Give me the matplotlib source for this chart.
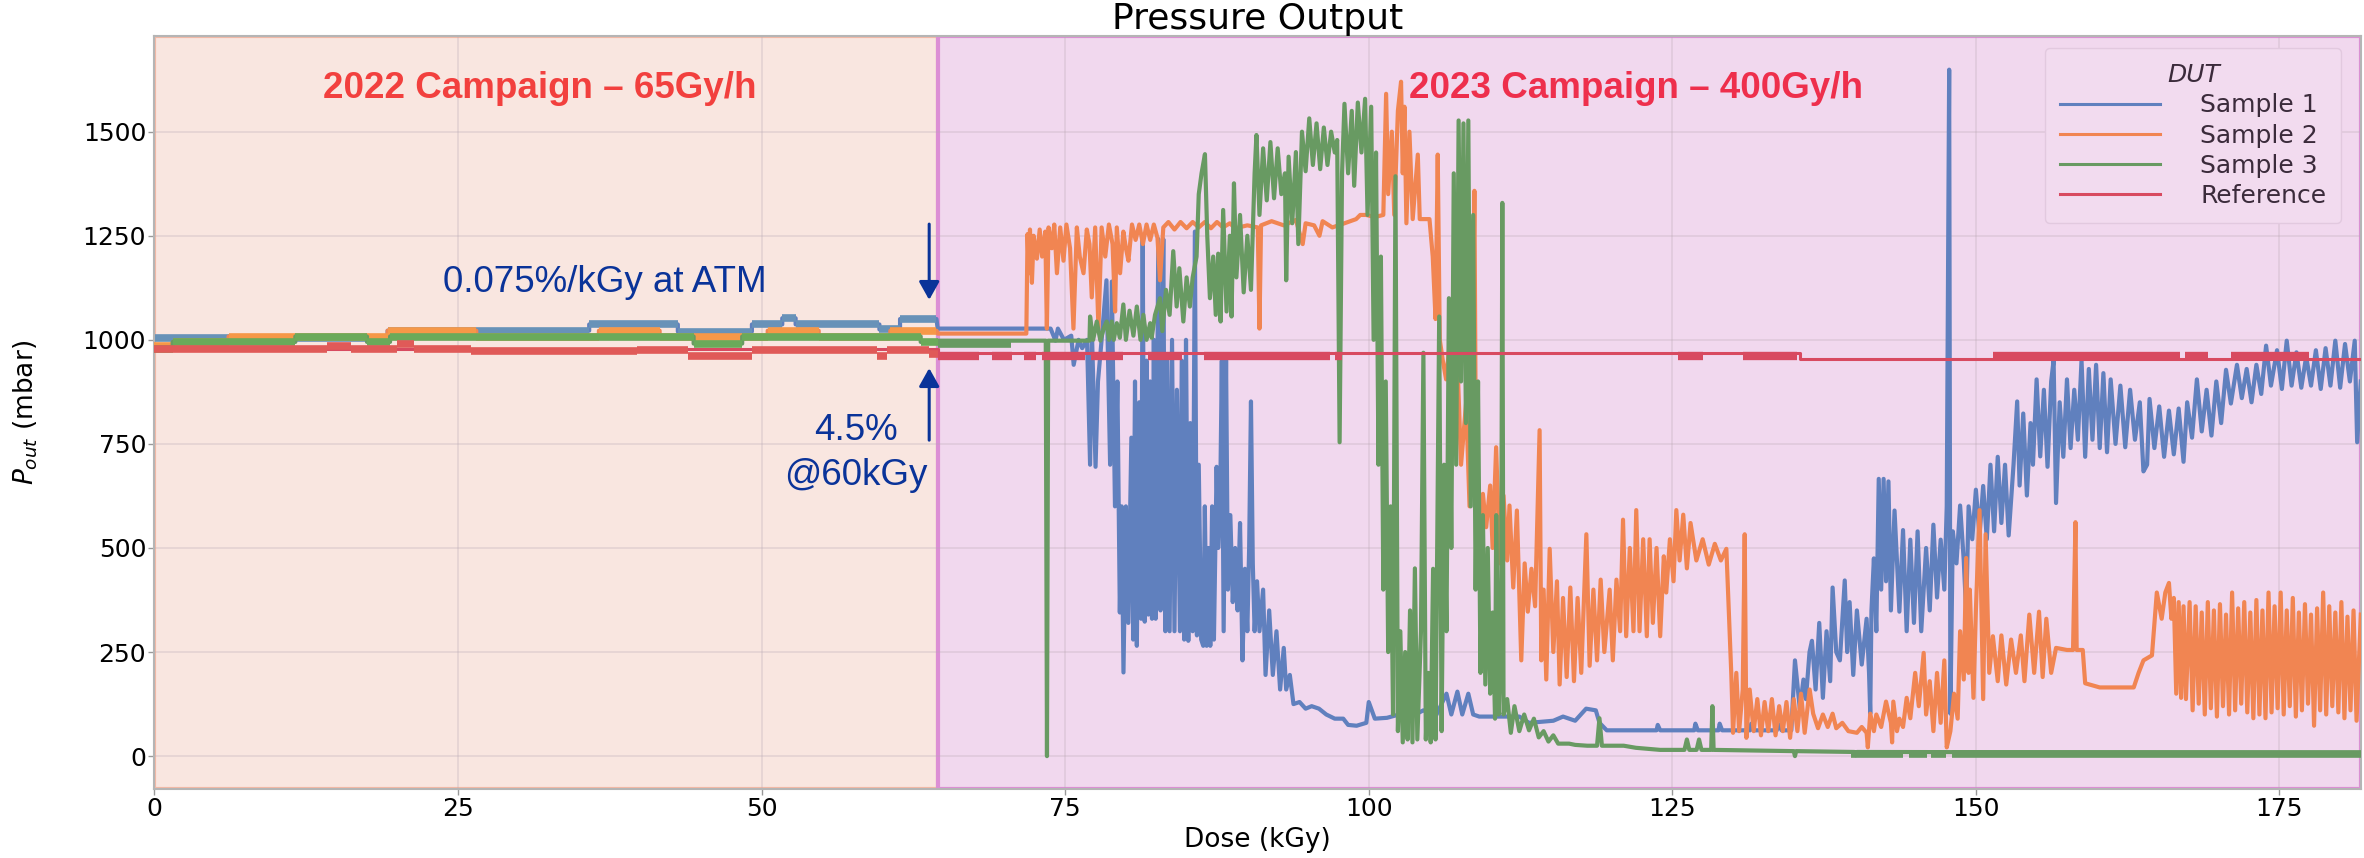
import numpy as np
import matplotlib
matplotlib.use("Agg")
import matplotlib.pyplot as plt

plt.rcParams['font.family'] = ['DejaVu Sans']

# ---------------- data ----------------
labels = ['Sample 1', 'Sample 2', 'Sample 3', 'Reference']
campaign_split = 64.5   # kGy, end of the 2022 campaign
dose_max = 181.7

# 2022 campaign (65 Gy/h): readings sit on a few quantised levels,
# stored as step edges (kGy) and levels (mbar)
s1_edges_2022 = [0, 19.2, 35.8, 43.1, 49.2, 51.7, 52.8, 59.7, 61.4, 64.4]
s1_levels_2022 = [1005, 1022, 1037, 1020, 1037, 1052, 1037, 1025, 1050]
s2_edges_2022 = [0, 1.5, 6.1, 19.2, 26.5, 36.6, 41.6, 50.5, 54.7, 60.6, 64.4]
s2_levels_2022 = [985, 994, 1008, 1022, 1008, 1022, 1008, 1022, 1008, 1022]
s3_edges_2022 = [0, 1.5, 11.6, 17.5, 19.4, 44.4, 48.4, 63.1, 64.5]
s3_levels_2022 = [978, 995, 1008, 995, 1008, 991, 1008, 995]

# 2023 campaign (400 Gy/h): (dose kGy, pressure mbar)
s1_2023 = [
    (64.5, 1027), (73.8, 1027), (74.2, 998), (74.4, 1027), (74.9, 1000), (75.5, 1010),
    (75.7, 940), (76.1, 1000), (76.4, 980), (76.8, 1000), (77.05, 700), (77.2, 1020),
    (77.5, 695), (77.7, 900), (78.0, 1000), (78.4, 1143), (78.7, 700), (78.84, 1140),
    (79.1, 600), (79.3, 900), (79.5, 345), (79.65, 600), (79.8, 201),
    (80.0, 600), (80.2, 320), (80.45, 765), (80.6, 280), (80.75, 900), (80.9, 265),
    (81.1, 850), (81.25, 330), (81.38, 1242), (81.55, 323), (81.7, 950), (81.85, 340),
    (82.0, 900), (82.15, 330), (82.3, 1000), (82.45, 330), (82.67, 1242), (82.85, 350),
    (83.0, 1000), (83.08, 1242), (83.25, 300), (83.4, 950), (83.6, 300), (83.8, 1000),
    (84.0, 300), (84.2, 880), (84.45, 300), (84.6, 950), (84.8, 280), (84.95, 1000),
    (85.14, 277), (85.3, 800), (85.5, 300), (85.68, 1260), (85.85, 290), (86.0, 700),
    (86.2, 280), (86.37, 265), (86.5, 600), (86.65, 265), (86.8, 500), (86.95, 265),
    (87.1, 600), (87.25, 280), (87.47, 695), (87.6, 500), (87.75, 580), (87.9, 950),
    (88.05, 300), (88.25, 951), (88.4, 400), (88.6, 579), (88.8, 370), (89.0, 500),
    (89.2, 350), (89.4, 560), (89.6, 230), (89.8, 450), (90.0, 300), (90.15, 500),
    (90.3, 852), (90.45, 463), (90.6, 300), (90.8, 420), (91.0, 300), (91.3, 400),
    (91.5, 195), (91.8, 350), (92.1, 195), (92.4, 300), (92.7, 160), (93.0, 260),
    (93.2, 160), (93.5, 195), (93.8, 125), (94.3, 130), (94.8, 114), (95.3, 120),
    (95.9, 114), (96.5, 100), (97.2, 90), (97.9, 90), (98.3, 75), (99.0, 73),
    (99.8, 80), (100.0, 130), (100.5, 90), (101.5, 92), (102.5, 100), (103.5, 95),
    (104.5, 110), (105.5, 95), (106.4, 150), (106.8, 100), (107.3, 155), (107.7, 100),
    (108.2, 150), (108.6, 100), (109.1, 95), (112.4, 95), (113.2, 80), (115.2, 85),
    (116.0, 95), (117.0, 85), (117.9, 114), (118.7, 110), (119.0, 80), (119.6, 62),
    (123.7, 62), (123.8, 75), (124.0, 62), (126.8, 62), (126.9, 78), (127.1, 62),
    (128.8, 62), (128.9, 78), (129.1, 62), (131.4, 62), (131.5, 78), (131.7, 62),
    (133.6, 62), (133.7, 78), (134.0, 62), (134.8, 62), (135.1, 230), (135.5, 114),
    (135.8, 184), (136.0, 137), (136.3, 250), (136.5, 277), (136.8, 160), (137.1, 320),
    (137.4, 140), (137.7, 300), (138.0, 180), (138.2, 405), (138.5, 250), (138.8, 230),
    (139.2, 422), (139.4, 250), (139.6, 370), (139.9, 195), (140.2, 350), (140.6, 220),
    (141.0, 330), (141.2, 200), (141.3, 102), (141.4, 350), (141.6, 475), (141.8, 300),
    (142.0, 666), (142.2, 400), (142.4, 666), (142.6, 420), (142.8, 660), (143.0, 350),
    (143.3, 590), (143.7, 347), (144.0, 543), (144.3, 300), (144.6, 520), (144.9, 320),
    (145.2, 540), (145.5, 300), (145.9, 500), (146.2, 350), (146.5, 556), (146.8, 381),
    (147.1, 520), (147.4, 400), (147.6, 600), (147.8, 1649), (147.9, 102), (148.1, 540),
    (148.4, 463), (148.7, 602), (149.0, 470), (149.2, 347), (149.4, 600), (149.7, 521),
    (150.0, 640), (150.3, 530), (150.6, 649), (150.9, 521), (151.2, 700), (151.5, 540),
    (151.8, 719), (152.1, 560), (152.4, 700), (152.7, 530), (153.1, 700), (153.4, 852),
    (153.6, 650), (153.9, 823), (154.2, 626), (154.5, 800), (154.7, 700), (155.0, 905),
    (155.3, 720), (155.6, 880), (155.9, 695), (156.2, 900), (156.4, 951), (156.6, 608),
    (156.9, 850), (157.2, 719), (157.5, 905), (157.8, 740), (158.1, 880), (158.4, 760),
    (158.7, 951), (159.0, 719), (159.3, 930), (159.6, 760), (159.9, 940), (160.2, 740),
    (160.5, 920), (160.8, 730), (161.1, 905), (161.5, 750), (161.9, 890), (162.3, 742),
    (162.7, 880), (163.1, 760), (163.5, 850), (163.8, 684), (164.1, 700), (164.3, 858),
    (164.7, 740), (165.1, 840), (165.5, 719), (165.9, 830), (166.3, 725), (166.7, 835),
    (167.1, 707), (167.4, 850), (167.8, 765), (168.2, 905), (168.6, 780), (169.0, 880),
    (169.4, 770), (169.8, 900), (170.2, 800), (170.6, 928), (171.0, 847), (171.5, 940),
    (171.9, 860), (172.3, 930), (172.7, 850), (173.1, 940), (173.5, 870), (173.9, 986),
    (174.3, 890), (174.8, 975), (175.2, 882), (175.6, 998), (176.0, 890), (176.4, 970),
    (176.8, 885), (177.2, 960), (177.6, 890), (178.0, 975), (178.4, 882), (178.8, 980),
    (179.2, 890), (179.6, 998), (180.0, 885), (180.4, 990), (180.8, 900), (181.2, 998),
    (181.4, 754), (181.7, 900),
]

s2_2023 = [
    (64.5, 1015), (71.8, 1015), (71.9, 1254), (72.0, 1160), (72.1, 1265), (72.26, 1137),
    (72.4, 1250), (72.67, 1195), (72.9, 1265), (73.1, 1200), (73.36, 1260), (73.49, 1027),
    (73.63, 1270), (73.9, 1220), (74.1, 1277), (74.32, 1160), (74.59, 1270), (74.86, 1190),
    (75.1, 1277), (75.4, 1220), (75.68, 1027), (75.96, 1270), (76.2, 1200), (76.51, 1160),
    (76.78, 1265), (77.0, 1230), (77.19, 1102), (77.47, 1270), (77.74, 1027), (78.0, 1270),
    (78.3, 1200), (78.6, 1277), (78.9, 1230), (79.11, 1068), (79.25, 1270), (79.52, 1160),
    (79.79, 1260), (80.0, 1220), (80.21, 1190), (80.5, 1277), (80.8, 1240), (81.1, 1277),
    (81.4, 1230), (81.7, 1277), (82.0, 1240), (82.3, 1277), (82.6, 1245), (82.81, 1143),
    (83.08, 1270), (83.5, 1283), (84.0, 1265), (84.5, 1283), (85.0, 1268), (85.5, 1283),
    (86.0, 1270), (86.5, 1283), (87.0, 1268), (87.5, 1283), (88.0, 1270), (88.56, 1280),
    (89.0, 1268), (90.0, 1275), (90.86, 1270), (91.0, 1027), (91.13, 1275), (92.0, 1285),
    (93.0, 1275), (94.0, 1288), (94.56, 1230), (94.8, 1280), (95.5, 1275), (95.94, 1250),
    (96.2, 1285), (97.0, 1270), (98.0, 1280), (98.96, 1290), (99.3, 1300), (99.78, 1300),
    (100.5, 1295), (101.2, 1300), (101.43, 1591), (101.6, 1350), (101.9, 1500), (102.1, 1300),
    (102.4, 1550), (102.66, 1620), (102.8, 1400), (102.94, 1560), (103.1, 1280), (103.35, 1500),
    (103.62, 1290), (104.04, 1445), (104.2, 1290), (105.0, 1290), (105.27, 1200), (105.5, 1050),
    (105.68, 1445), (105.85, 1000), (106.1, 950), (106.37, 905), (106.7, 1000), (107.0, 800),
    (107.3, 950), (107.6, 700), (108.02, 850), (108.3, 600), (108.5, 800), (108.7, 1358),
    (108.84, 637), (109.12, 486), (109.4, 630), (109.67, 550), (110.0, 650), (110.2, 500),
    (110.49, 742), (110.8, 463), (111.1, 626), (111.4, 470), (111.59, 602), (111.9, 405),
    (112.2, 590), (112.56, 230), (112.84, 463), (113.1, 347), (113.4, 450), (113.7, 360),
    (114.07, 783), (114.21, 230), (114.4, 400), (114.62, 184), (114.9, 498), (115.2, 250),
    (115.5, 420), (115.72, 172), (116.0, 380), (116.3, 190), (116.6, 405), (116.9, 180),
    (117.2, 380), (117.5, 200), (117.92, 533), (118.19, 217), (118.5, 400), (118.8, 230),
    (119.1, 424), (119.4, 250), (119.84, 400), (120.1, 230), (120.4, 424), (120.7, 300),
    (120.94, 568), (121.2, 288), (121.5, 500), (121.8, 300), (122.03, 591), (122.3, 300),
    (122.6, 521), (122.9, 288), (123.13, 521), (123.4, 320), (123.7, 500), (124.0, 288),
    (124.3, 480), (124.5, 393), (124.8, 521), (125.1, 420), (125.33, 591), (125.6, 470),
    (125.9, 580), (126.2, 451), (126.5, 560), (126.98, 470), (127.5, 521), (128.0, 460),
    (128.5, 510), (129.0, 470), (129.45, 498), (129.86, 195), (130.0, 56), (130.27, 200),
    (130.5, 60), (130.8, 160), (130.96, 533), (131.1, 44), (131.37, 160), (131.7, 60),
    (132.0, 137), (132.3, 50), (132.6, 130), (132.9, 60), (133.2, 137), (133.5, 50),
    (133.8, 120), (134.1, 60), (134.4, 130), (134.7, 44), (135.0, 137), (135.3, 60),
    (135.6, 150), (135.9, 56), (136.31, 160), (136.6, 102), (137.0, 67), (137.4, 100),
    (137.8, 70), (138.2, 102), (138.5, 67), (139.0, 80), (139.5, 60), (140.2, 56),
    (140.6, 70), (141.0, 56), (141.1, 21), (141.3, 102), (141.6, 60), (141.8, 100),
    (142.2, 70), (142.6, 131), (143.0, 80), (143.1, 33), (143.2, 131), (143.5, 60),
    (143.7, 90), (144.0, 70), (144.3, 140), (144.6, 91), (145.0, 200), (145.3, 120),
    (145.7, 248), (145.9, 100), (146.2, 180), (146.5, 60), (146.8, 200), (147.1, 80),
    (147.4, 230), (147.6, 21), (147.9, 60), (148.2, 150), (148.5, 90), (148.7, 300),
    (149.0, 184), (149.2, 476), (149.4, 200), (149.5, 400), (149.8, 140), (150.0, 350),
    (150.3, 591), (150.6, 137), (150.8, 533), (151.1, 200), (151.4, 288), (151.8, 180),
    (152.1, 290), (152.5, 172), (152.9, 280), (153.3, 200), (153.7, 290), (154.0, 180),
    (154.4, 340), (154.8, 200), (155.2, 347), (155.5, 190), (155.8, 330), (156.2, 200),
    (156.6, 260), (157.5, 255), (158.0, 255), (158.2, 562), (158.3, 255), (158.8, 255),
    (159.0, 175), (160.2, 165), (163.0, 165), (163.4, 200), (163.8, 230), (164.5, 242),
    (164.9, 393), (165.3, 330), (165.6, 393), (165.9, 416), (166.1, 330), (166.3, 380),
    (166.5, 150), (166.7, 370), (166.9, 140), (167.1, 360), (167.3, 137), (167.6, 370),
    (167.85, 110), (168.1, 360), (168.35, 126), (168.6, 345), (168.85, 100), (169.1, 370),
    (169.35, 115), (169.6, 350), (169.85, 95), (170.1, 365), (170.35, 120), (170.6, 340),
    (170.85, 100), (171.1, 393), (171.35, 110), (171.6, 355), (171.85, 126), (172.1, 370),
    (172.35, 105), (172.6, 345), (172.85, 91), (173.1, 375), (173.35, 100), (173.6, 350),
    (173.85, 91), (174.1, 393), (174.35, 105), (174.6, 360), (174.85, 115), (175.1, 393),
    (175.35, 100), (175.6, 350), (175.85, 120), (176.1, 380), (176.35, 95), (176.6, 345),
    (176.85, 110), (177.1, 365), (177.35, 126), (177.6, 340), (177.85, 73), (178.1, 355),
    (178.35, 110), (178.6, 393), (178.85, 100), (179.1, 360), (179.35, 120), (179.6, 345),
    (179.85, 105), (180.1, 370), (180.35, 91), (180.6, 335), (180.85, 110), (181.1, 350),
    (181.35, 85), (181.7, 340),
]

s3_2023 = [
    (64.5, 998), (73.4, 998), (73.5, 0), (73.6, 998), (77.0, 998), (77.05, 1056),
    (77.3, 1000), (77.6, 1044), (77.9, 998), (78.2, 1030), (78.42, 1044), (78.6, 1000),
    (78.84, 1044), (79.0, 1000), (79.25, 1040), (79.5, 1005), (79.79, 1085), (80.0, 1000),
    (80.3, 1070), (80.62, 1010), (80.9, 1080), (81.2, 1000), (81.44, 1060), (81.7, 1000),
    (82.0, 1040), (82.12, 1005), (82.4, 1060), (82.81, 1100), (83.0, 1021), (83.3, 1120),
    (83.6, 1060), (83.9, 1213), (84.18, 1080), (84.4, 1172), (84.73, 1044), (85.0, 1150),
    (85.27, 1080), (85.5, 1150), (85.82, 1200), (86.0, 1350), (86.23, 1400), (86.51, 1446),
    (86.7, 1250), (86.92, 1100), (87.19, 1200), (87.4, 1060), (87.6, 1207), (87.8, 1044),
    (88.01, 1312), (88.29, 1068), (88.56, 1250), (88.7, 1056), (88.9, 1376), (89.1, 1150),
    (89.4, 1300), (89.7, 1114), (90.0, 1250), (90.3, 1120), (90.6, 1400), (90.75, 1492),
    (91.0, 1300), (91.3, 1460), (91.6, 1335), (91.9, 1475), (92.2, 1340), (92.5, 1460),
    (92.8, 1350), (93.1, 1400), (93.2, 1143), (93.4, 1440), (93.7, 1280), (94.0, 1451),
    (94.2, 1230), (94.5, 1500), (94.8, 1405), (95.1, 1532), (95.4, 1420), (95.7, 1520),
    (96.0, 1410), (96.3, 1510), (96.6, 1420), (96.9, 1500), (97.2, 1450), (97.4, 1480),
    (97.6, 754), (97.8, 1400), (98.0, 1567), (98.3, 1400), (98.6, 1550), (98.8, 1370),
    (99.1, 1570), (99.4, 1450), (99.7, 1579), (99.9, 1300), (100.2, 1560), (100.4, 1000),
    (100.6, 1450), (100.8, 700), (101.0, 1200), (101.2, 400), (101.4, 900), (101.6, 250),
    (101.8, 600), (102.0, 100), (102.2, 1393), (102.4, 60), (102.6, 300), (102.8, 33),
    (103.0, 250), (103.2, 40), (103.4, 350), (103.6, 33), (103.8, 451), (104.0, 40),
    (104.3, 300), (104.5, 969), (104.7, 40), (104.9, 200), (105.1, 33), (105.3, 450),
    (105.5, 40), (105.8, 1056), (106.0, 60), (106.2, 700), (106.4, 300), (106.6, 1100),
    (106.8, 500), (107.0, 1400), (107.2, 700), (107.4, 1527), (107.6, 900), (107.8, 1520),
    (108.0, 800), (108.2, 1527), (108.4, 600), (108.6, 1300), (108.8, 400), (109.0, 900),
    (109.2, 200), (109.4, 579), (109.6, 172), (109.8, 500), (110.0, 150), (110.2, 345),
    (110.4, 90), (110.5, 579), (110.7, 100), (110.9, 300), (111.0, 1329), (111.1, 100),
    (111.4, 137), (111.7, 56), (112.0, 120), (112.4, 60), (112.8, 100), (113.2, 62),
    (113.6, 90), (114.0, 45), (114.4, 60), (114.8, 35), (115.2, 50), (115.6, 30),
    (116.5, 30), (117.0, 27), (118.0, 25), (118.8, 25), (119.0, 91), (119.2, 25),
    (121.0, 25), (122.0, 20), (124.0, 15), (126.0, 15), (126.2, 40), (126.4, 15),
    (127.0, 15), (127.2, 40), (127.4, 15), (128.2, 15), (128.3, 120), (128.4, 15),
    (135.0, 12), (135.1, 0), (135.2, 12), (140.0, 10), (140.1, 2), (140.2, 10),
    (181.7, 8),
]
# stretches where Sample 3 flickers between two counts (start, end, mbar)
s3_bands_2023 = [(64.5, 70.5, 990), (139.7, 144.0, 6), (144.5, 146.0, 6),
                 (146.3, 147.5, 6), (148.0, 181.7, 6)]

ref_trace = [(0, 978), (64.5, 978), (64.5, 969), (135.5, 969), (135.5, 955), (181.7, 955)]
ref_bands = [
    (0, 14.2, 977), (14.2, 16.2, 985), (16.2, 20.0, 977), (20.0, 21.4, 990),
    (21.4, 26.1, 977), (26.1, 39.7, 972), (39.7, 43.9, 975), (43.9, 49.2, 962),
    (49.2, 59.5, 975), (59.5, 60.3, 962), (60.3, 63.8, 975), (63.8, 64.5, 965),
    (64.5, 67.9, 961), (69.0, 70.6, 961), (71.6, 72.6, 961), (73.1, 76.6, 961),
    (77.1, 79.8, 961), (81.8, 84.6, 961), (86.4, 96.8, 961), (97.2, 97.8, 961),
    (125.5, 127.5, 961), (130.8, 135.3, 961), (151.4, 166.8, 962), (167.2, 169.1, 962),
    (171.0, 177.4, 962),
]

# ---------------- styling ----------------
colors = ['#6080be', '#f18552', '#689a62', '#d84a60']       # 2023 side
colors_2022 = ['#6892b8', '#f69848', '#6aaa5a', '#e05a58']  # under the salmon tint
ann_blue = '#0a3399'
trace_lw = 3.0
ref_lw = 2.2
band_lw = 5.5


def step_path(edges, levels):
    x = np.repeat(edges, 2)[1:-1]
    y = np.repeat(levels, 2)
    return x, y


fig = plt.figure(figsize=(23.64, 8.58), dpi=100)
ax = fig.add_axes([0.06535, 0.0804, 0.9333, 0.8782])

ax.axvspan(0, campaign_split, facecolor='#f9e6e0', edgecolor='#f3b9a6', lw=3, zorder=0)
ax.axvspan(campaign_split, dose_max, facecolor='#f1d8ee', edgecolor='#dc8fd5', lw=3, zorder=0)
ax.set_axisbelow(True)
ax.grid(True, color='#b9a9b4', lw=1.1, alpha=0.35)

steps = [(s1_edges_2022, s1_levels_2022), (s2_edges_2022, s2_levels_2022),
         (s3_edges_2022, s3_levels_2022)]
traces = [s1_2023, s2_2023, s3_2023]
handles = []
for i, ((edges, levels), trace) in enumerate(zip(steps, traces)):
    x0, y0 = step_path(edges, levels)
    d, p = np.array(trace).T
    line, = ax.plot(np.concatenate([x0, d]), np.concatenate([y0, p]),
                    color=colors[i], lw=trace_lw, zorder=2 + i)
    ax.hlines(levels, edges[:-1], edges[1:], color=colors_2022[i], lw=band_lw, zorder=2 + i)
    handles.append(line)

b0, b1, bp = np.array(s3_bands_2023).T
ax.hlines(bp, b0, b1, color=colors[2], lw=band_lw, zorder=4)

d, p = np.array(ref_trace).T
line, = ax.plot(d, p, color=colors[3], lw=ref_lw, zorder=5)
handles.append(line)
b0, b1, bp = np.array(ref_bands).T
old = b0 < campaign_split
ax.hlines(bp[old], b0[old], b1[old], color=colors_2022[3], lw=band_lw, zorder=5)
ax.hlines(bp[~old], b0[~old], b1[~old], color=colors[3], lw=6, zorder=5)

# annotations added on top of the plot
ann_font = ['Liberation Sans', 'DejaVu Sans']
ax.text(31.7, 1581, '2022 Campaign \u2013 65Gy/h', color='#f2403e', fontsize=26.5,
        fontweight='bold', family=ann_font, ha='center', va='baseline', zorder=8)
ax.text(122.0, 1581, '2023 Campaign \u2013 400Gy/h', color='#ee2f4c', fontsize=26.5,
        fontweight='bold', family=ann_font, ha='center', va='baseline', zorder=8)
ax.text(37.1, 1115, '0.075%/kGy at ATM', color=ann_blue, fontsize=26.5,
        family=ann_font, ha='center', va='baseline', zorder=8)
ax.text(57.75, 759, '4.5%', color=ann_blue, fontsize=26.5,
        family=ann_font, ha='center', va='baseline', zorder=8)
ax.text(57.75, 651, '@60kGy', color=ann_blue, fontsize=26.5,
        family=ann_font, ha='center', va='baseline', zorder=8)
arrow = dict(arrowstyle='-|>,head_length=0.5,head_width=0.28', color=ann_blue,
             lw=2.2, mutation_scale=22, shrinkA=0, shrinkB=0)
ax.annotate('', xy=(63.8, 1096), xytext=(63.8, 1278), arrowprops=arrow, zorder=8)
ax.annotate('', xy=(63.8, 932), xytext=(63.8, 759), arrowprops=arrow, zorder=8)

ax.set_xlim(0, dose_max)
ax.set_ylim(-79, 1731)
ax.set_xticks(np.arange(0, 176, 25))
ax.set_yticks(np.arange(0, 1501, 250))
ax.tick_params(labelsize=18, length=4, width=1, pad=2, color='#999999')
for s in ax.spines.values():
    s.set_color('#b5b5b5')
    s.set_linewidth(1.5)

ax.set_title('Pressure Output', fontsize=26, pad=4)
ax.set_xlabel('Dose (kGy)', fontsize=19, labelpad=4)
ax.set_ylabel('$P_{out}$ (mbar)', fontsize=19)
ax.yaxis.set_label_coords(-0.052, 0.5)

leg = ax.legend(handles, labels, title='DUT', loc='upper right',
                bbox_to_anchor=(0.9912, 0.9834), borderaxespad=0, fontsize=18,
                title_fontsize=18, handlelength=4.0, handletextpad=1.6, labelspacing=0.25,
                borderpad=0.6, fancybox=True, facecolor='#f2dbef', edgecolor='#e2c9df',
                framealpha=1)
leg.set_zorder(10)
for h in leg.legend_handles:
    h.set_linewidth(2.2)
leg.get_title().set_fontstyle('italic')
for t in leg.get_texts() + [leg.get_title()]:
    t.set_color('#3b2b3b')

fig.savefig('out.png', dpi=100)
